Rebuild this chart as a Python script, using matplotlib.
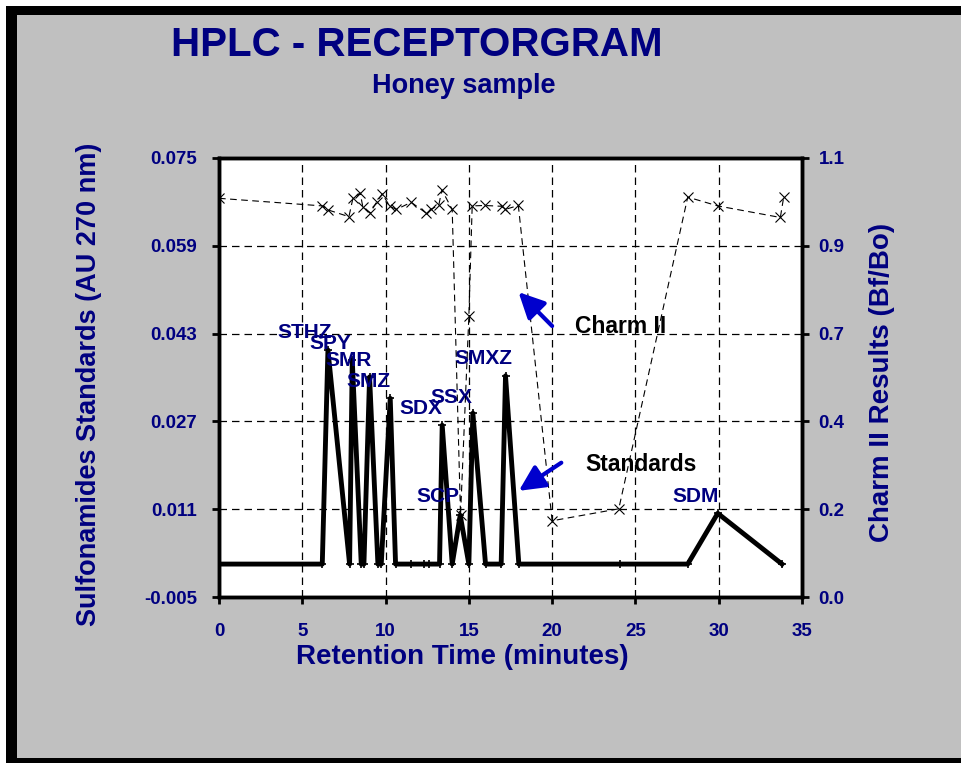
import matplotlib
matplotlib.use('Agg')
import matplotlib.pyplot as plt
from matplotlib.patches import Rectangle
from matplotlib.ticker import FixedLocator, FormatStrFormatter

plt.rcParams['font.family'] = ['Liberation Sans', 'DejaVu Sans']
plt.rcParams['font.weight'] = 'bold'

# Standards (left axis, AU 270 nm)
std_time = [0, 6.2, 6.54, 7.84, 8.0, 8.54, 8.7, 9.04, 9.54, 9.74, 10.28, 10.6, 11.54, 12.3, 12.6,
            13.24, 13.4, 14.0, 14.48, 15.0, 15.24, 16.0, 16.94, 17.2, 18.0, 24.05, 28.14, 29.94, 33.8]
std_abs = [0.001, 0.001, 0.040, 0.001, 0.0382, 0.001, 0.001, 0.0351, 0.001, 0.001, 0.0312, 0.001, 0.001, 0.001, 0.001,
           0.001, 0.0263, 0.001, 0.0099, 0.001, 0.0285, 0.001, 0.001, 0.0353, 0.001, 0.001, 0.001, 0.01025, 0.001]

# Charm II results (right axis, Bf/Bo)
charm_time = [0, 6.2, 6.54, 7.8, 8.04, 8.48, 8.64, 9.08, 9.48, 9.8, 10.24, 10.64, 11.54, 12.4, 12.74, 13.2, 13.38,
              14.0, 14.5, 15.0, 15.2, 15.95, 16.98, 17.17, 17.97, 20.0, 24.0, 28.14, 29.94, 33.7, 33.9]
charm_bfbo = [0.999, 0.980, 0.970, 0.953, 0.999, 1.012, 0.976, 0.963, 0.991, 1.010, 0.980, 0.971, 0.989, 0.963, 0.971,
              0.983, 1.020, 0.971, 0.205, 0.703, 0.980, 0.981, 0.979, 0.971, 0.981, 0.191, 0.221, 1.002, 0.980, 0.951, 1.002]

# peak labels
peak_names = ['STHZ', 'SPY', 'SMR', 'SMZ', 'SDX', 'SSX', 'SCP', 'SMXZ', 'SDM']
peak_x = [5.17, 6.7, 7.78, 8.98, 12.1, 13.96, 13.15, 15.85, 28.6]
peak_y = [0.0432, 0.0412, 0.0381, 0.0342, 0.0293, 0.0313, 0.0134, 0.0384, 0.0133]

left_ticks = [0.075, 0.059, 0.043, 0.027, 0.011, -0.005]
right_ticks = [0.0, 0.22, 0.44, 0.66, 0.88, 1.1]
x_ticks = [0, 5, 10, 15, 20, 25, 30, 35]

navy = '#000080'
W, H = 961, 763
fig = plt.figure(figsize=(9.61, 7.63), dpi=100, facecolor='white')
# frame: black border on top / left / bottom, grey panel
fig.patches.append(Rectangle((6 / W, 0), 1, (H - 6) / H, transform=fig.transFigure,
                             facecolor='black', edgecolor='none', zorder=-2))
fig.patches.append(Rectangle((17 / W, 5 / H), 1, (758 - 15) / H, transform=fig.transFigure,
                             facecolor='#c0c0c0', edgecolor='none', zorder=-1))

ax = fig.add_axes([219 / W, 1 - 597 / H, (802 - 219) / W, (597 - 158) / H])
ax.set_facecolor('white')
ax.plot(std_time, std_abs, color='black', lw=3.5, marker='+', ms=6, mew=1.2, zorder=3)
ax.set_xlim(0, 35)
ax.set_ylim(-0.005, 0.075)
ax.set_xticks(x_ticks)
ax.yaxis.set_major_locator(FixedLocator(left_ticks))
ax.yaxis.set_major_formatter(FormatStrFormatter('%.3f'))
ax.grid(True, color='black', lw=0.9, linestyle=(0, (6, 4)))
ax.set_axisbelow(True)

for n, px, py in zip(peak_names, peak_x, peak_y):
    ax.text(px, py, n, color=navy, fontsize=15, fontweight='bold', ha='center', va='center', zorder=4)

ax2 = ax.twinx()
ax2.plot(charm_time, charm_bfbo, color='black', lw=0.8, linestyle=(0, (6, 4)),
         marker='x', ms=7, mew=0.8, zorder=3)
ax2.set_ylim(0, 1.1)
ax2.yaxis.set_major_locator(FixedLocator(right_ticks))
ax2.yaxis.set_major_formatter(FormatStrFormatter('%.1f'))

arrow_kw = dict(arrowstyle='-|>,head_length=0.65,head_width=0.32', color='#0000cd',
                lw=3, mutation_scale=24, shrinkA=0, shrinkB=0)
ax2.annotate('', xy=(17.98, 0.764), xytext=(20.0, 0.679), arrowprops=arrow_kw)
ax2.annotate('', xy=(18.0, 0.266), xytext=(20.55, 0.3365), arrowprops=arrow_kw)
ax2.text(21.35, 0.677, 'Charm II', fontsize=16.5, fontweight='bold', color='black', va='center', ha='left')
ax2.text(22.0, 0.333, 'Standards', fontsize=16.5, fontweight='bold', color='black', va='center', ha='left')

for a in (ax, ax2):
    for s in a.spines.values():
        s.set_linewidth(2.5)
    a.tick_params(width=2, length=5, labelsize=13.5, labelcolor=navy)
ax.tick_params(axis='y', pad=11)
ax.tick_params(axis='x', pad=14)
ax2.tick_params(axis='y', pad=7)
for lbl in ax.get_xticklabels() + ax.get_yticklabels() + ax2.get_yticklabels():
    lbl.set_fontweight('bold')

fig.text(417 / W, 1 - 45 / H, 'HPLC - RECEPTORGRAM', fontsize=29, fontweight='bold', color=navy,
         ha='center', va='center')
fig.text(464 / W, 1 - 86 / H, 'Honey sample', fontsize=19.5, fontweight='bold', color=navy,
         ha='center', va='center')
fig.text(462 / W, 1 - 657 / H, 'Retention Time (minutes)', fontsize=20, fontweight='bold', color=navy,
         ha='center', va='center')
fig.text(89 / W, 1 - 384 / H, 'Sulfonamides Standards (AU 270 nm)', fontsize=19.5, fontweight='bold',
         color=navy, ha='center', va='center', rotation=90)
fig.text(882 / W, 1 - 382 / H, 'Charm II Results (Bf/Bo)', fontsize=20, fontweight='bold', color=navy,
         ha='center', va='center', rotation=90)

fig.savefig('out.png', dpi=100, facecolor=fig.get_facecolor())
